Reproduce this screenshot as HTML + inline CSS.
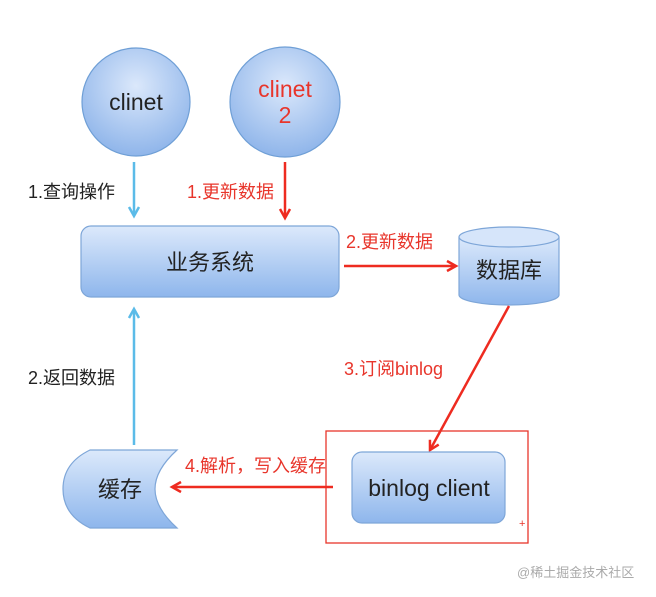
<!DOCTYPE html>
<html><head><meta charset="utf-8"><style>
html,body{margin:0;padding:0;background:#fff;}
svg{display:block;}
text{font-family:"Liberation Sans","Noto Sans CJK SC",sans-serif;}
</style></head><body>
<svg width="656" height="597" viewBox="0 0 656 597" xmlns="http://www.w3.org/2000/svg">
<defs>
<linearGradient id="g" x1="0" y1="0" x2="0" y2="1">
<stop offset="0" stop-color="#dce9fb"/><stop offset="1" stop-color="#8eb6ec"/>
</linearGradient>
<radialGradient id="rg" cx="0.5" cy="0.35" r="0.65">
<stop offset="0" stop-color="#dbe8fb"/><stop offset="1" stop-color="#8fb5ea"/>
</radialGradient>
<marker id="ar" markerWidth="14" markerHeight="14" refX="11" refY="7" orient="auto" markerUnits="userSpaceOnUse"><path d="M2,2 L11,7 L2,12" fill="none" stroke="#ee2b20" stroke-width="2.5"/></marker>
<marker id="ab" markerWidth="14" markerHeight="14" refX="11" refY="7" orient="auto" markerUnits="userSpaceOnUse"><path d="M2,2 L11,7 L2,12" fill="none" stroke="#5bbbe8" stroke-width="2.5"/></marker>
</defs>
<circle cx="136" cy="102" r="54" fill="url(#rg)" stroke="#6f9fd6" stroke-width="1.2"/>
<text x="136" y="110" font-size="23" text-anchor="middle" fill="#222">clinet</text>
<circle cx="285" cy="102" r="55" fill="url(#rg)" stroke="#6f9fd6" stroke-width="1.2"/>
<text x="285" y="97" font-size="23" text-anchor="middle" fill="#e8352b">clinet</text>
<text x="285" y="123" font-size="23" text-anchor="middle" fill="#e8352b">2</text>
<line x1="134" y1="162" x2="134" y2="216" stroke="#5bbbe8" stroke-width="2.5" marker-end="url(#ab)"/>
<text x="28" y="198" font-size="18" fill="#222">1.查询操作</text>
<line x1="285" y1="162" x2="285" y2="218" stroke="#ee2b20" stroke-width="2.5" marker-end="url(#ar)"/>
<text x="187" y="198" font-size="18" fill="#e8352b">1.更新数据</text>
<rect x="81" y="226" width="258" height="71" rx="10" fill="url(#g)" stroke="#7ea6d8" stroke-width="1.2"/>
<text x="210" y="270" font-size="22" text-anchor="middle" fill="#222">业务系统</text>
<line x1="344" y1="266" x2="456" y2="266" stroke="#ee2b20" stroke-width="2.5" marker-end="url(#ar)"/>
<text x="346" y="248" font-size="18" fill="#e8352b">2.更新数据</text>
<path d="M459,237 L459,295 A50,10 0 0 0 559,295 L559,237" fill="url(#g)" stroke="#7ea6d8" stroke-width="1.2"/>
<ellipse cx="509" cy="237" rx="50" ry="10" fill="#d6e5fa" stroke="#7ea6d8" stroke-width="1.2"/>
<text x="509" y="278" font-size="22" text-anchor="middle" fill="#222">数据库</text>
<line x1="509" y1="306" x2="430" y2="450" stroke="#ee2b20" stroke-width="2.5" marker-end="url(#ar)"/>
<text x="344" y="375" font-size="18" fill="#e8352b">3.订阅binlog</text>
<line x1="134" y1="445" x2="134" y2="309" stroke="#5bbbe8" stroke-width="2.5" marker-end="url(#ab)"/>
<text x="28" y="384" font-size="18" fill="#222">2.返回数据</text>
<path d="M90,450 L177,450 Q155,470 155,489 Q155,508 177,528 L90,528 Q63,515 63,489 Q63,463 90,450 Z" fill="url(#g)" stroke="#7ea6d8" stroke-width="1.2"/>
<text x="120" y="497" font-size="22" text-anchor="middle" fill="#222">缓存</text>
<rect x="326" y="431" width="202" height="112" fill="none" stroke="#e8352b" stroke-width="1.3"/>
<rect x="352" y="452" width="153" height="71" rx="10" fill="url(#g)" stroke="#7ea6d8" stroke-width="1.2"/>
<text x="429" y="496" font-size="23" text-anchor="middle" fill="#222">binlog client</text>
<text x="519" y="527" font-size="11" fill="#e8352b">+</text>
<line x1="333" y1="487" x2="172" y2="487" stroke="#ee2b20" stroke-width="2.5" marker-end="url(#ar)"/>
<text x="185" y="472" font-size="18" fill="#e8352b">4.解析，写入缓存</text>
<text x="517" y="577" font-size="13" fill="#aaa">@稀土掘金技术社区</text>
</svg>
</body></html>
